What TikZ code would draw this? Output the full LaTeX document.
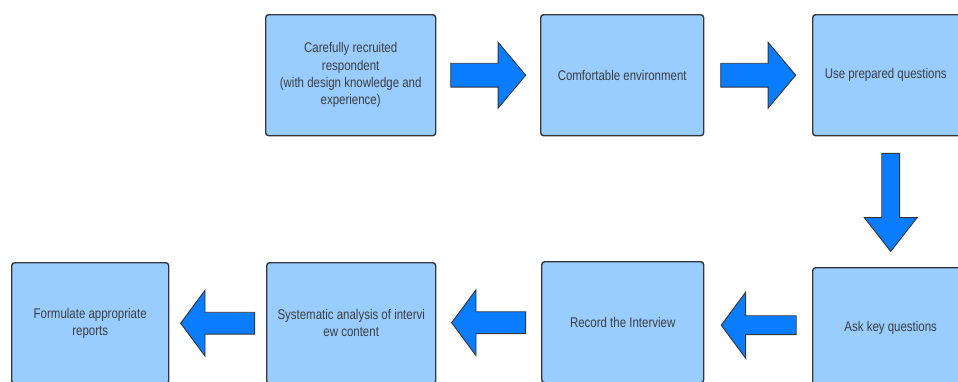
\documentclass[tikz,border=0pt]{standalone}
\usepackage{fontspec}
\setmainfont[FakeStretch=0.82]{Liberation Sans}
\usepackage{tikz}
\usetikzlibrary{positioning, shapes.arrows}
\definecolor{boxblue}{HTML}{99CCFF}
\definecolor{arrowblue}{HTML}{0A7CFF}
\definecolor{edgegray}{HTML}{33363B}
\definecolor{textgray}{HTML}{3A3D42}
\tikzstyle{stage} = [rectangle, rounded corners=3bp, anchor=north west, minimum height=121bp, text centered, align=center, draw=edgegray, line width=1.4bp, fill=boxblue, text=textgray, font=\fontsize{14bp}{17.3bp}\selectfont]
\tikzstyle{fatbase} = [single arrow, draw=edgegray, line width=0.9bp, fill=arrowblue, inner xsep=0pt, inner ysep=11.5bp, single arrow head extend=21bp, minimum height=75bp, single arrow tip angle=100]
\tikzstyle{fat} = [fatbase, xshift=-5bp]
\tikzstyle{fatback} = [fatbase, rotate=180, inner ysep=10.5bp, single arrow head extend=22bp, minimum height=74bp, single arrow tip angle=107, xshift=-4bp]

\begin{document}
\begin{tikzpicture}[x=1bp, y=-1bp]
\clip (0,0) rectangle (958,381);

\node (recruit) [stage, minimum width=170bp] at (265,14) {Carefully recruited\\respondent\\(with design knowledge and\\experience)};
\node (comfort) [stage, minimum width=163bp] at (540,14) {Comfortable environment};
\node (prepared) [stage, minimum width=156bp] at (812,14) {Use prepared questions\hspace*{10bp}};

\node (askkey) [stage, minimum width=156bp] at (812,267) {Ask key questions};
\node (record) [stage, minimum width=162bp] at (541,261) {Record the Interview};
\node (analysis) [stage, minimum width=169bp] at (266,262) {Systematic analysis of intervi\\ew content};
\node (report) [stage, minimum width=157bp] at (11,262) {Formulate appropriate\\reports};

% block arrows between the stages
\path (recruit.east) -- node (go1) [fat] {} (comfort.west);
\path (comfort.east) -- node (go2) [fat] {} (prepared.west);
\path (prepared.south) -- node (go3) [fatbase, rotate=-90, inner ysep=8.5bp, single arrow head extend=17.5bp, minimum height=98bp, single arrow tip angle=76, xshift=-5bp] {} (askkey.north);
\path (askkey.west) -- node (go4) [fatback, inner ysep=9bp, single arrow head extend=23.5bp, minimum height=75bp] {} (record.east);
\path (record.west) -- node (go5) [fatback] {} (analysis.east);
\path (analysis.west) -- node (go6) [fatback] {} (report.east);

\end{tikzpicture}
\end{document}
